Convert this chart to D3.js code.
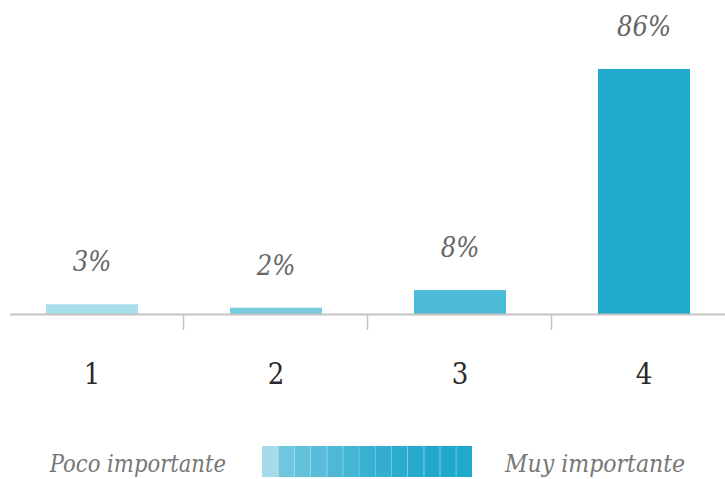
<!DOCTYPE html>
<html><head><meta charset="utf-8">
<script src="https://cdn.jsdelivr.net/npm/d3@7"></script>
<style>body{margin:0;background:#fff}svg{display:block}</style>
</head><body>
<svg id="c" width="725" height="479"></svg>
<script>
const categories = ["1", "2", "3", "4"];
const values = [3.4, 2.2, 8.4, 86];
const valueLabels = ["3%", "2%", "8%", "86%"];
const barColors = ["#a6dde9", "#77cce0", "#4bbad6", "#1fa9cc"];
const legendLeft = "Poco importante";
const legendRight = "Muy importante";
const legendColors = ["#a6dce9","#6fc6dd","#63c1da","#58bdd8","#4db9d6","#44b5d4","#3ab1d2","#33aed0","#2cacce","#27aacd","#23a9cc","#20a9cc","#1fa9cc"];

const svg = d3.select("#c");
const baseY = 314;
const x = d3.scaleBand().domain(categories).range([0, 736]).paddingInner(0.5).paddingOuter(0.25);
const y = d3.scaleLinear().domain([0, 86]).range([baseY, 69]);
const serifC = "'DejaVu Serif Condensed', 'DejaVu Serif', serif";

svg.selectAll("rect.bar").data(values).join("rect")
  .attr("class","bar")
  .attr("x",(d,i)=>x(categories[i]))
  .attr("width",x.bandwidth())
  .attr("y",d=>y(d))
  .attr("height",d=>baseY-y(d))
  .attr("fill",(d,i)=>barColors[i]);

svg.append("line").attr("x1",10).attr("x2",725).attr("y1",baseY+0.5).attr("y2",baseY+0.5)
  .attr("stroke","#c4c4c4").attr("stroke-width",2);
const step = x.step();
categories.slice(1).forEach((c,i)=>{
  const bx = Math.round(x(c) - (step - x.bandwidth())/2) - 0.5;
  svg.append("line").attr("x1",bx).attr("x2",bx).attr("y1",baseY).attr("y2",330)
    .attr("stroke","#c4c4c4").attr("stroke-width",1.5);
});

svg.selectAll("text.cat").data(categories).join("text")
  .attr("class","cat")
  .attr("x",d=>x(d)+x.bandwidth()/2)
  .attr("y",384)
  .attr("text-anchor","middle")
  .attr("font-family",serifC)
  .attr("font-size",29)
  .attr("fill","#2a2a2a")
  .text(d=>d);

svg.selectAll("text.val").data(values).join("text")
  .attr("class","val")
  .attr("x",(d,i)=>x(categories[i])+x.bandwidth()/2)
  .attr("y",d=>y(d)-33)
  .attr("text-anchor","middle")
  .attr("font-family",serifC)
  .attr("font-style","italic")
  .attr("font-size",27)
  .attr("fill","#666")
  .text((d,i)=>valueLabels[i]);

const lx = d3.scaleBand().domain(d3.range(legendColors.length)).range([262, 472]);
svg.selectAll("rect.leg").data(legendColors).join("rect")
  .attr("class","leg")
  .attr("x",(d,i)=>lx(i))
  .attr("width",lx.bandwidth())
  .attr("y",446).attr("height",31)
  .attr("fill",d=>d);
legendColors.slice(1).forEach((c,i)=>{
  const sx = Math.round(lx(i+1))+0.5;
  svg.append("line").attr("x1",sx).attr("x2",sx).attr("y1",446).attr("y2",477)
    .attr("stroke","#ffffff").attr("stroke-opacity",0.2).attr("stroke-width",1);
});
svg.append("text").attr("x",226).attr("y",472).attr("text-anchor","end")
  .attr("font-family",serifC).attr("font-style","italic")
  .attr("font-size",23.5).attr("fill","#777").text(legendLeft);
svg.append("text").attr("x",505).attr("y",472).attr("text-anchor","start")
  .attr("font-family",serifC).attr("font-style","italic")
  .attr("font-size",24.5).attr("fill","#777").text(legendRight);
</script>
</body></html>
